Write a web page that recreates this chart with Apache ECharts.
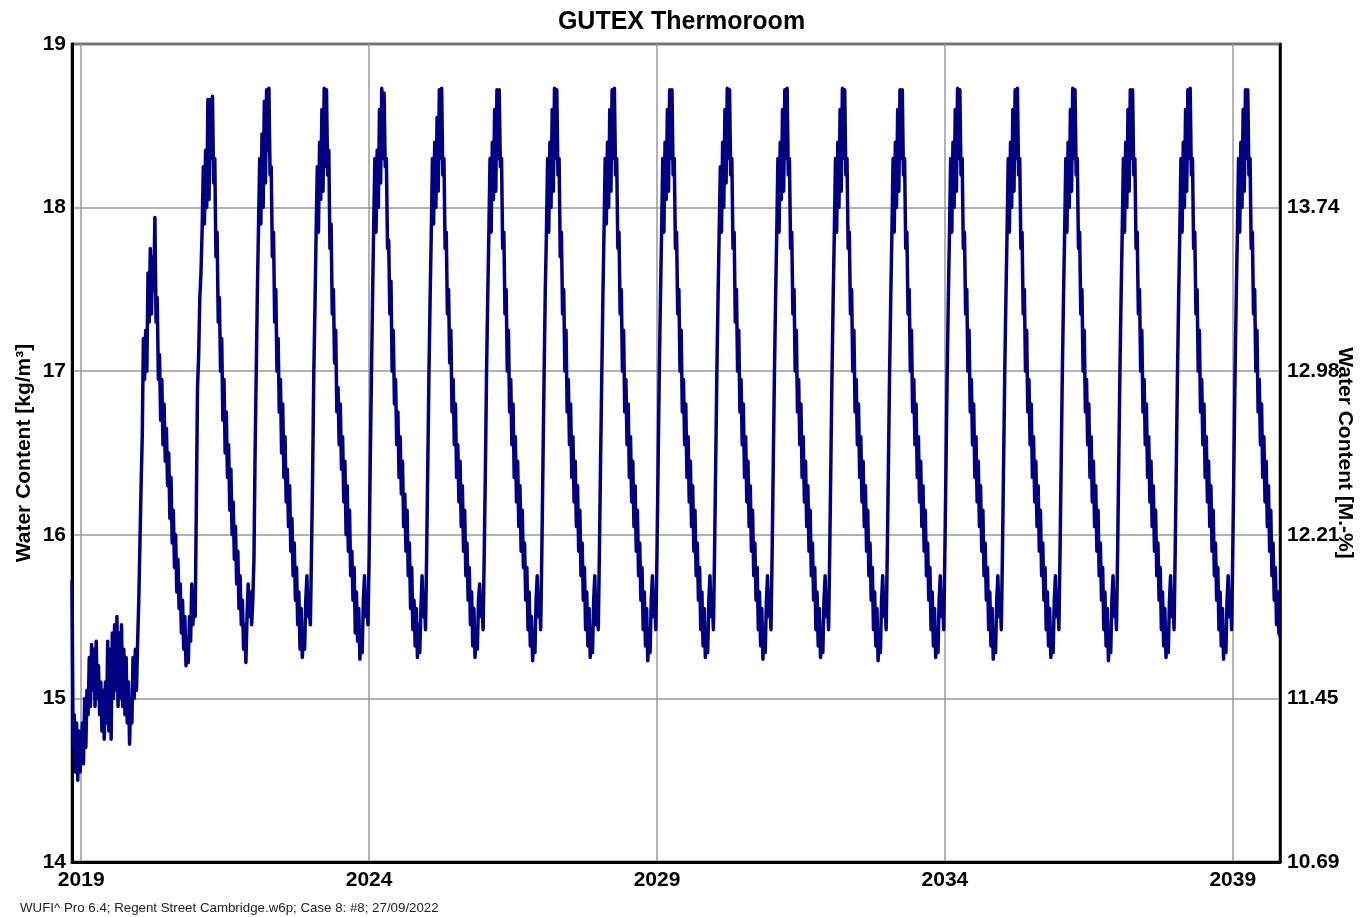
<!DOCTYPE html>
<html>
<head>
<meta charset="utf-8">
<script src="https://cdn.jsdelivr.net/npm/echarts@6/dist/echarts.min.js"></script>
<style>
html,body{margin:0;padding:0;background:#fff;overflow:hidden;width:1363px;height:917px;}
#chart{width:1363px;height:917px;}
</style>
</head>
<body>
<div id="chart"></div>
<script>
// ---- texts ----
const titleText = 'GUTEX Thermoroom';
const footerText = 'WUFI^ Pro 6.4; Regent Street Cambridge.w6p; Case 8: #8; 27/09/2022';
const leftAxisName = 'Water Content [kg/m\u00B3]';
const rightAxisName = 'Water Content [M.-%]';

// ---- axes ----
const xMin = 2018.84;
const xMax = 2039.82;
const xTickYears = [2019, 2024, 2029, 2034, 2039];
const yMin = 14, yMax = 19, yStep = 1;
const rightTickLabels = ['10.69', '11.45', '12.21', '12.98', '13.74', ''];

// ---- data: water content [kg/m3], one value every 0.02 year ----
const sampleStep = 0.02;
const wc2018 = [15.72, 14.7, 14.9, 14.55, 14.85, 14.5, 14.8, 14.55]; // starts at 2018.84
const wc2019 = [14.55, 14.85, 14.6, 15.0, 14.7, 15.05, 14.9, 15.25, 14.95, 15.33, 15.05, 15.3, 14.95, 15.35, 15.0, 15.2, 14.9, 15.1, 14.8, 15.05, 14.75, 15.1, 14.85, 15.35, 14.8, 15.3, 14.75, 15.4, 15.0, 15.45, 15.05, 15.5, 14.95, 15.4, 15.0, 15.45, 14.95, 15.3, 14.9, 15.25, 14.85, 15.1, 14.72, 15.0, 14.85, 15.25, 15.0, 15.3, 15.05, 15.35];
const wc2020 = [15.6, 15.95, 16.3, 16.6, 17.2, 16.95, 17.25, 17.0, 17.6, 17.3, 17.75, 17.35, 17.7, 17.5, 17.94, 17.3, 17.45, 16.95, 17.1, 16.7, 16.95, 16.55, 16.8, 16.45, 16.65, 16.3, 16.5, 16.1, 16.35, 15.95, 16.15, 15.8, 16.0, 15.65, 15.85, 15.55, 15.7, 15.4, 15.6, 15.3, 15.5, 15.2, 15.35, 15.22, 15.5, 15.35, 15.7, 15.45, 15.6, 15.5];
const wc2021 = [16.2, 16.9, 17.1, 17.45, 17.6, 17.86, 18.25, 17.9, 18.35, 18.0, 18.66, 18.05, 18.66, 18.3, 18.68, 18.15, 18.3, 17.7, 17.85, 17.3, 17.45, 17.0, 17.2, 16.7, 16.95, 16.5, 16.75, 16.35, 16.55, 16.15, 16.4, 16.0, 16.2, 15.85, 16.05, 15.7, 15.9, 15.55, 15.75, 15.45, 15.6, 15.3, 15.45, 15.22, 15.5, 15.7, 15.5, 15.65, 15.45, 15.6];
const wc2022 = [15.85, 16.5, 17.0, 17.5, 17.9, 18.3, 17.9, 18.45, 18.0, 18.65, 18.15, 18.72, 18.35, 18.73, 18.2, 18.25, 17.7, 17.85, 17.3, 17.5, 17.0, 17.2, 16.75, 16.95, 16.5, 16.8, 16.35, 16.6, 16.2, 16.4, 16.05, 16.3, 15.9, 16.1, 15.75, 15.95, 15.6, 15.8, 15.45, 15.65, 15.3, 15.55, 15.25, 15.4, 15.3, 15.6, 15.75, 15.5, 15.55, 15.45];
const wc2023 = [15.9, 16.4, 17.0, 17.4, 17.85, 18.25, 17.85, 18.4, 18.05, 18.6, 18.1, 18.73, 18.25, 18.72, 18.2, 18.35, 17.75, 17.9, 17.35, 17.5, 17.05, 17.25, 16.75, 16.9, 16.55, 16.8, 16.4, 16.6, 16.2, 16.45, 16.0, 16.3, 15.9, 16.15, 15.75, 15.9, 15.6, 15.8, 15.4, 15.65, 15.35, 15.55, 15.24, 15.4, 15.28, 15.6, 15.75, 15.5, 15.6, 15.45];
const wc2024 = [15.85, 16.45, 16.95, 17.45, 17.9, 18.3, 17.85, 18.35, 18.0, 18.6, 18.15, 18.73, 18.3, 18.7, 18.25, 18.3, 17.75, 17.8, 17.35, 17.55, 17.0, 17.25, 16.8, 16.95, 16.55, 16.75, 16.35, 16.6, 16.25, 16.45, 16.05, 16.25, 15.9, 16.15, 15.75, 15.95, 15.55, 15.8, 15.42, 15.6, 15.32, 15.55, 15.25, 15.45, 15.28, 15.55, 15.75, 15.5, 15.6, 15.42];
const wc2025 = [15.9, 16.45, 17.0, 17.45, 17.85, 18.3, 17.9, 18.4, 18.0, 18.55, 18.1, 18.72, 18.3, 18.73, 18.2, 18.3, 17.75, 17.85, 17.35, 17.5, 17.05, 17.25, 16.75, 16.95, 16.55, 16.8, 16.35, 16.55, 16.2, 16.45, 16.05, 16.3, 15.9, 16.15, 15.75, 15.95, 15.6, 15.8, 15.45, 15.65, 15.32, 15.55, 15.25, 15.4, 15.3, 15.6, 15.7, 15.5, 15.6, 15.42];
const wc2026 = [15.9, 16.4, 17.0, 17.45, 17.85, 18.3, 17.85, 18.4, 18.05, 18.6, 18.1, 18.72, 18.3, 18.72, 18.25, 18.3, 17.75, 17.85, 17.35, 17.5, 17.0, 17.25, 16.75, 16.95, 16.55, 16.8, 16.35, 16.6, 16.2, 16.45, 16.05, 16.3, 15.9, 16.15, 15.8, 15.95, 15.6, 15.8, 15.42, 15.65, 15.32, 15.5, 15.23, 15.4, 15.28, 15.6, 15.75, 15.5, 15.6, 15.42];
const wc2027 = [15.9, 16.45, 17.0, 17.5, 17.85, 18.3, 17.85, 18.4, 18.0, 18.6, 18.1, 18.73, 18.3, 18.72, 18.2, 18.3, 17.7, 17.85, 17.35, 17.5, 17.0, 17.25, 16.75, 16.95, 16.55, 16.8, 16.35, 16.6, 16.2, 16.45, 16.05, 16.3, 15.9, 16.15, 15.75, 15.95, 15.6, 15.8, 15.42, 15.65, 15.32, 15.55, 15.25, 15.4, 15.28, 15.6, 15.75, 15.45, 15.6, 15.42];
const wc2028 = [15.9, 16.45, 16.95, 17.45, 17.85, 18.3, 17.9, 18.4, 18.0, 18.6, 18.1, 18.72, 18.3, 18.73, 18.2, 18.3, 17.75, 17.85, 17.35, 17.5, 17.0, 17.25, 16.75, 16.95, 16.55, 16.8, 16.35, 16.6, 16.2, 16.45, 16.05, 16.3, 15.9, 16.15, 15.75, 15.95, 15.6, 15.8, 15.42, 15.65, 15.32, 15.55, 15.23, 15.4, 15.28, 15.6, 15.75, 15.5, 15.6, 15.42];
const wc2029 = [15.9, 16.45, 17.0, 17.45, 17.85, 18.3, 17.85, 18.4, 18.05, 18.6, 18.1, 18.72, 18.3, 18.72, 18.2, 18.3, 17.75, 17.85, 17.35, 17.5, 17.0, 17.25, 16.75, 16.95, 16.55, 16.8, 16.35, 16.6, 16.2, 16.45, 16.05, 16.3, 15.9, 16.15, 15.75, 15.95, 15.6, 15.8, 15.42, 15.65, 15.32, 15.55, 15.25, 15.4, 15.28, 15.6, 15.75, 15.5, 15.6, 15.42];
const wc2030 = [15.9, 16.45, 17.0, 17.45, 17.85, 18.25, 17.85, 18.4, 18.0, 18.6, 18.15, 18.73, 18.3, 18.72, 18.2, 18.3, 17.75, 17.85, 17.3, 17.5, 17.0, 17.25, 16.75, 16.95, 16.55, 16.8, 16.35, 16.6, 16.2, 16.45, 16.05, 16.3, 15.9, 16.15, 15.75, 15.95, 15.6, 15.8, 15.42, 15.65, 15.32, 15.55, 15.24, 15.4, 15.28, 15.6, 15.75, 15.5, 15.6, 15.42];
const wc2031 = [15.9, 16.45, 17.0, 17.45, 17.85, 18.3, 17.85, 18.4, 18.05, 18.6, 18.1, 18.72, 18.3, 18.73, 18.2, 18.3, 17.75, 17.85, 17.35, 17.5, 17.0, 17.25, 16.75, 16.95, 16.55, 16.8, 16.35, 16.6, 16.2, 16.45, 16.05, 16.3, 15.9, 16.15, 15.75, 15.95, 15.6, 15.8, 15.42, 15.65, 15.32, 15.55, 15.25, 15.4, 15.28, 15.6, 15.75, 15.5, 15.6, 15.42];
const wc2032 = [15.9, 16.45, 17.0, 17.45, 17.85, 18.3, 17.85, 18.4, 18.0, 18.6, 18.1, 18.73, 18.3, 18.72, 18.2, 18.3, 17.75, 17.85, 17.35, 17.5, 17.0, 17.25, 16.75, 16.95, 16.55, 16.8, 16.35, 16.6, 16.2, 16.45, 16.05, 16.3, 15.9, 16.15, 15.75, 15.95, 15.6, 15.8, 15.42, 15.65, 15.32, 15.55, 15.23, 15.4, 15.28, 15.6, 15.75, 15.5, 15.6, 15.42];
const wc2033 = [15.9, 16.45, 17.0, 17.45, 17.85, 18.3, 17.85, 18.4, 18.0, 18.6, 18.1, 18.72, 18.3, 18.72, 18.2, 18.3, 17.75, 17.85, 17.35, 17.5, 17.0, 17.25, 16.75, 16.95, 16.55, 16.8, 16.35, 16.6, 16.2, 16.45, 16.05, 16.3, 15.9, 16.15, 15.75, 15.95, 15.6, 15.8, 15.42, 15.65, 15.32, 15.55, 15.25, 15.4, 15.28, 15.6, 15.75, 15.5, 15.6, 15.42];
const wc2034 = [15.9, 16.45, 17.0, 17.45, 17.85, 18.3, 17.85, 18.4, 18.0, 18.6, 18.1, 18.73, 18.3, 18.72, 18.2, 18.3, 17.75, 17.85, 17.35, 17.5, 17.0, 17.25, 16.75, 16.95, 16.55, 16.8, 16.35, 16.6, 16.2, 16.45, 16.05, 16.3, 15.9, 16.15, 15.75, 15.95, 15.6, 15.8, 15.42, 15.65, 15.32, 15.55, 15.24, 15.4, 15.28, 15.6, 15.75, 15.5, 15.6, 15.42];
const wc2035 = [15.9, 16.45, 17.0, 17.45, 17.85, 18.3, 17.85, 18.4, 18.0, 18.6, 18.1, 18.72, 18.3, 18.73, 18.2, 18.3, 17.75, 17.85, 17.35, 17.5, 17.0, 17.25, 16.75, 16.95, 16.55, 16.8, 16.35, 16.6, 16.2, 16.45, 16.05, 16.3, 15.9, 16.15, 15.75, 15.95, 15.6, 15.8, 15.42, 15.65, 15.32, 15.55, 15.25, 15.4, 15.28, 15.6, 15.75, 15.5, 15.6, 15.42];
const wc2036 = [15.9, 16.45, 17.0, 17.45, 17.85, 18.3, 17.85, 18.4, 18.0, 18.6, 18.1, 18.73, 18.3, 18.72, 18.2, 18.3, 17.75, 17.85, 17.35, 17.5, 17.0, 17.25, 16.75, 16.95, 16.55, 16.8, 16.35, 16.6, 16.2, 16.45, 16.05, 16.3, 15.9, 16.15, 15.75, 15.95, 15.6, 15.8, 15.42, 15.65, 15.32, 15.55, 15.23, 15.4, 15.28, 15.6, 15.75, 15.5, 15.6, 15.42];
const wc2037 = [15.9, 16.45, 17.0, 17.45, 17.85, 18.3, 17.85, 18.4, 18.0, 18.6, 18.1, 18.72, 18.3, 18.72, 18.2, 18.3, 17.75, 17.85, 17.35, 17.5, 17.0, 17.25, 16.75, 16.95, 16.55, 16.8, 16.35, 16.6, 16.2, 16.45, 16.05, 16.3, 15.9, 16.15, 15.75, 15.95, 15.6, 15.8, 15.42, 15.65, 15.32, 15.55, 15.25, 15.4, 15.28, 15.6, 15.75, 15.5, 15.6, 15.42];
const wc2038 = [15.9, 16.45, 17.0, 17.45, 17.85, 18.3, 17.85, 18.4, 18.0, 18.6, 18.1, 18.72, 18.3, 18.73, 18.2, 18.3, 17.75, 17.85, 17.35, 17.5, 17.0, 17.25, 16.75, 16.95, 16.55, 16.8, 16.35, 16.6, 16.2, 16.45, 16.05, 16.3, 15.9, 16.15, 15.75, 15.95, 15.6, 15.8, 15.42, 15.65, 15.32, 15.55, 15.24, 15.4, 15.28, 15.6, 15.75, 15.5, 15.6, 15.42];
const wc2039 = [15.9, 16.45, 17.0, 17.45, 17.85, 18.3, 17.85, 18.4, 18.0, 18.6, 18.1, 18.72, 18.3, 18.72, 18.2, 18.3, 17.75, 17.85, 17.35, 17.5, 17.0, 17.25, 16.75, 16.95, 16.55, 16.8, 16.35, 16.6, 16.2, 16.45, 16.05, 16.3, 15.9, 16.15, 15.75, 15.95, 15.6, 15.8, 15.45, 15.65, 15.4, 15.38];

// [start time of first sample, values]
const yearBlocks = [
  [2018.84, wc2018], [2019, wc2019], [2020, wc2020], [2021, wc2021], [2022, wc2022],
  [2023, wc2023], [2024, wc2024], [2025, wc2025], [2026, wc2026], [2027, wc2027],
  [2028, wc2028], [2029, wc2029], [2030, wc2030], [2031, wc2031], [2032, wc2032],
  [2033, wc2033], [2034, wc2034], [2035, wc2035], [2036, wc2036], [2037, wc2037],
  [2038, wc2038], [2039, wc2039]
];

const seriesData = [];
yearBlocks.forEach(function (b) {
  b[1].forEach(function (v, i) {
    seriesData.push([+(b[0] + i * sampleStep).toFixed(4), v]);
  });
});

const FONT = '"Liberation Sans", Arial, Helvetica, sans-serif';

const chart = echarts.init(document.getElementById('chart'), null, { renderer: 'canvas', width: 1363, height: 917 });
chart.setOption({
  animation: false,
  backgroundColor: '#ffffff',
  title: {
    text: titleText,
    left: 'center',
    top: 5,
    textStyle: { fontFamily: FONT, fontSize: 25, fontWeight: 'bold', color: '#000' }
  },
  graphic: [{
    type: 'text',
    left: 20,
    top: 902,
    style: { text: footerText, font: '13.3px ' + FONT, fill: '#222' }
  }],
  grid: {
    left: 72, right: 83, top: 44, bottom: 55,
    outerBoundsMode: 'none',
    containLabel: false,
    show: true, borderColor: '#000', borderWidth: 2.5, backgroundColor: 'transparent'
  },
  xAxis: {
    type: 'value',
    min: xMin,
    max: xMax,
    axisLine: { show: true, onZero: false, lineStyle: { color: '#000', width: 3 } },
    axisTick: { show: false, customValues: xTickYears },
    axisLabel: {
      customValues: xTickYears,
      margin: 8,
      formatter: function (v) { return String(Math.round(v)); },
      fontFamily: FONT, fontSize: 21, fontWeight: 'bold', color: '#000'
    },
    splitLine: { show: true, lineStyle: { color: '#9a9a9a', width: 1.5 } }
  },
  yAxis: [{
    type: 'value',
    position: 'left',
    min: yMin, max: yMax, interval: yStep,
    name: leftAxisName,
    nameLocation: 'middle',
    nameGap: 37,
    nameRotate: 90,
    nameMoveOverlap: false,
    nameTextStyle: { fontFamily: FONT, fontSize: 21, fontWeight: 'bold', color: '#000' },
    axisLine: { show: true, onZero: false, lineStyle: { color: '#000', width: 3 } },
    axisTick: { show: false },
    axisLabel: { margin: 6, fontFamily: FONT, fontSize: 21, fontWeight: 'bold', color: '#000' },
    splitLine: { show: true, lineStyle: { color: '#9a9a9a', width: 1.5 } }
  }, {
    type: 'value',
    position: 'right',
    min: yMin, max: yMax, interval: yStep,
    name: rightAxisName,
    nameLocation: 'middle',
    nameGap: 54,
    nameRotate: -90,
    nameMoveOverlap: false,
    nameTextStyle: { fontFamily: FONT, fontSize: 21, fontWeight: 'bold', color: '#000' },
    axisLine: { show: true, onZero: false, lineStyle: { color: '#000', width: 2.5 } },
    axisTick: { show: false },
    axisLabel: {
      margin: 7,
      fontFamily: FONT, fontSize: 21, fontWeight: 'bold', color: '#000',
      formatter: function (v) { return rightTickLabels[Math.round(v) - yMin] || ''; }
    },
    splitLine: { show: false }
  }],
  series: [{
    type: 'line',
    name: 'Water Content',
    yAxisIndex: 0,
    data: seriesData,
    showSymbol: false,
    symbol: 'none',
    clip: true,
    z: 3,
    lineStyle: { color: '#000080', width: 3.5, join: 'round' }
  }]
});
</script>
</body>
</html>
